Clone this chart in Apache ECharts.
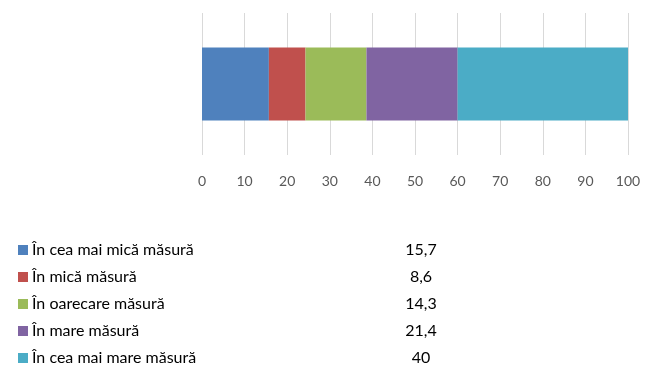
<!DOCTYPE html>
<html><head><meta charset="utf-8">
<script src="https://cdn.jsdelivr.net/npm/echarts@6/dist/echarts.min.js"></script>
<style>html,body{margin:0;padding:0;background:#fff}#c{width:650px;height:388px}</style>
</head><body><div id="c"></div>
<script>
const categories = ['În cea mai mică măsură','În mică măsură','În oarecare măsură','În mare măsură','În cea mai mare măsură'];
const values = [15.7, 8.6, 14.3, 21.4, 40];
const colors = ['#4F81BD','#C0504D','#9BBB59','#8064A2','#4BACC6'];
const xTicks = {min:0, max:100, interval:10};

const chart = echarts.init(document.getElementById('c'));
const fmt = v => String(v).replace('.', ',');
chart.setOption({
  animation:false,
  grid:{left:202, right:22, top:13, height:142},
  xAxis:{type:'value', min:xTicks.min, max:xTicks.max, interval:xTicks.interval,
    axisLine:{show:false}, axisTick:{show:false},
    splitLine:{lineStyle:{color:'#d9d9d9', width:1}},
    axisLabel:{color:'#595959', fontSize:14, fontFamily:'Lato', margin:19}},
  yAxis:{type:'category', data:[''], show:false},
  legend:{orient:'vertical', left:13, top:237, itemWidth:10, itemHeight:10, itemGap:11,
    icon:'rect', data:categories, padding:5,
    textStyle:{fontFamily:'Lato', fontSize:16, color:'#000', padding:[0,0,0,-1],
      rich:{a:{width:364, fontSize:16, fontFamily:'Lato', color:'#000'},
            b:{width:50, align:'center', fontSize:16, fontFamily:'Lato', color:'#000'}}},
    formatter: name => '{a|' + name + '}{b|' + fmt(values[categories.indexOf(name)]) + '}'
  },
  series: categories.map((n,i)=>({name:n, type:'bar', stack:'s', barWidth:73,
    data:[values[i]], itemStyle:{color:colors[i]}}))
});
</script></body></html>
